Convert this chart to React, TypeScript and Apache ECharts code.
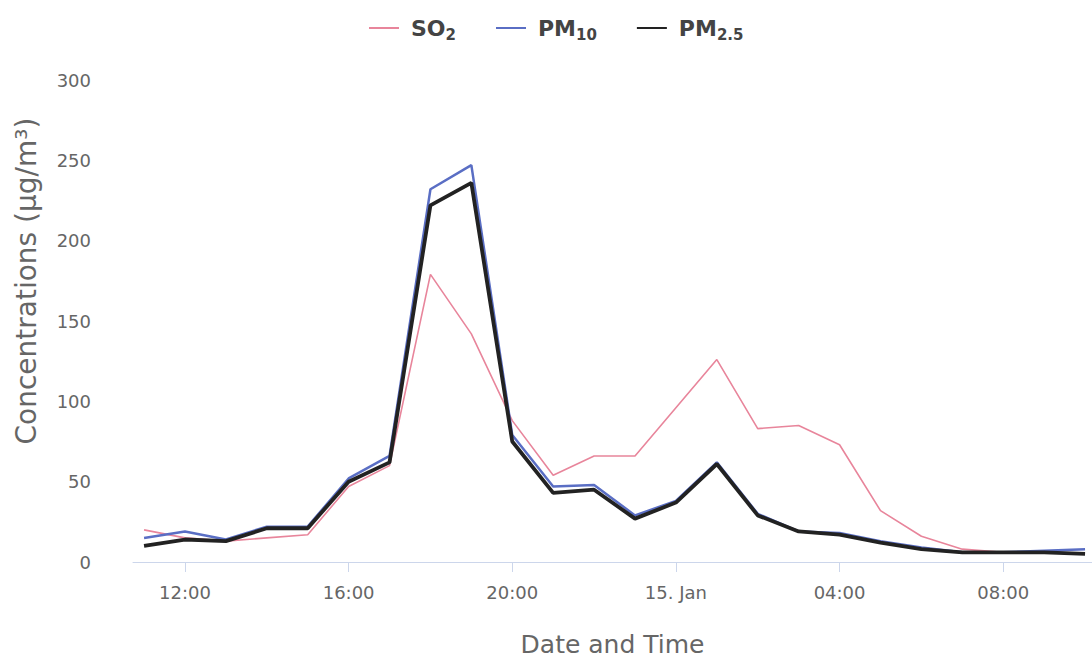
import React, { useEffect, useRef } from "react";
import * as echarts from "echarts";

// Hours since 14 Jan 00:00 (11:00 on 14 Jan to 10:00 on 15 Jan)
const hours = [11, 12, 13, 14, 15, 16, 17, 18, 19, 20, 21, 22, 23, 24, 25, 26, 27, 28, 29, 30, 31, 32, 33, 34];
const so2 = [20, 15, 13, 15, 17, 47, 60, 179, 142, 88, 54, 66, 66, 96, 126, 83, 85, 73, 32, 16, 8, 6, 6, 5];
const pm10 = [15, 19, 14, 22, 22, 52, 66, 232, 247, 79, 47, 48, 29, 38, 62, 30, 19, 18, 13, 9, 6, 6, 7, 8];
const pm25 = [10, 14, 13, 21, 21, 50, 62, 222, 236, 75, 43, 45, 27, 37, 61, 29, 19, 17, 12, 8, 6, 6, 6, 5];
const xTickHours = [12, 16, 20, 24, 28, 32];
const yTicks = [0, 50, 100, 150, 200, 250, 300];

const seriesNames = ["SO2", "PM10", "PM2.5"];
const legendRich: Record<string, string> = {
  SO2: "{b|SO}{s|2}",
  PM10: "{b|PM}{s|10}",
  "PM2.5": "{b|PM}{s|2.5}",
};

const FONT = "DejaVu Sans";

export default function App() {
  const ref = useRef<HTMLDivElement>(null);
  useEffect(() => {
    if (!ref.current) return;
    const chart = echarts.init(ref.current, null, { renderer: "svg" });
    const pair = (arr: number[]) => hours.map((h, i) => [h, arr[i]]);
    chart.setOption({
      animation: false,
      backgroundColor: "#ffffff",
      textStyle: { fontFamily: FONT },
      legend: {
        left: 364,
        top: 12,
        itemGap: 40,
        itemWidth: 30,
        itemHeight: 2,
        icon: "rect",
        data: seriesNames,
        formatter: (n: string) => legendRich[n] || n,
        textStyle: {
          color: "#333",
          fontFamily: FONT,
          rich: {
            b: { fontSize: 22, fontWeight: "bold", color: "#444", fontFamily: FONT, lineHeight: 28, padding: [0, 0, 0, 7] },
            s: { fontSize: 15, fontWeight: "bold", color: "#444", fontFamily: FONT, lineHeight: 28, verticalAlign: "bottom", padding: [10, 0, 0, 0] },
          },
        },
      },
      grid: { left: 133, right: 0, top: 80, bottom: 90, containLabel: false },
      xAxis: {
        type: "value",
        min: 10.73,
        max: 34.17,
        name: "Date and Time",
        nameLocation: "middle",
        nameGap: 70,
        nameTextStyle: { fontSize: 25, color: "#666", fontFamily: FONT },
        axisLine: { show: true, lineStyle: { color: "#ccd6eb", width: 1 } },
        axisTick: { show: true, length: 10, customValues: xTickHours, lineStyle: { color: "#ccd6eb" } },
        splitLine: { show: false },
        axisLabel: {
          customValues: xTickHours,
          margin: 21,
          fontSize: 18,
          color: "#666",
          fontFamily: FONT,
          formatter: (v: number) => {
            const h = Math.round(v) % 24;
            if (h === 0) return "15. Jan";
            return (h < 10 ? "0" : "") + h + ":00";
          },
        },
      },
      yAxis: {
        type: "value",
        min: 0,
        max: 300,
        interval: 50,
        axisLine: { show: false },
        axisTick: { show: false },
        splitLine: { show: false },
        axisLabel: {
          customValues: yTicks,
          margin: 42,
          fontSize: 18,
          color: "#666",
          fontFamily: FONT,
          padding: [0, 0, 14, 0],
        },
      },
      graphic: [
        {
          type: "text",
          x: 26,
          y: 281,
          rotation: Math.PI / 2,
          style: {
            text: "Concentrations (μg/m³)",
            fontSize: 28,
            fill: "#666",
            fontFamily: FONT,
            align: "center",
            verticalAlign: "middle",
          },
        },
      ],
      series: [
        {
          name: "SO2",
          type: "line",
          data: pair(so2),
          showSymbol: false,
          symbol: "none",
          lineStyle: { color: "#e8859b", width: 1.6 },
          itemStyle: { color: "#e8859b" },
          z: 1,
        },
        {
          name: "PM10",
          type: "line",
          data: pair(pm10),
          showSymbol: false,
          symbol: "none",
          lineStyle: { color: "#5a6ec4", width: 2.5 },
          itemStyle: { color: "#5a6ec4" },
          z: 2,
        },
        {
          name: "PM2.5",
          type: "line",
          data: pair(pm25),
          showSymbol: false,
          symbol: "none",
          lineStyle: { color: "#222222", width: 3.8 },
          itemStyle: { color: "#222222" },
          z: 3,
        },
      ],
    });
    return () => chart.dispose();
  }, []);
  return (
    <div
      ref={ref}
      style={{ position: "fixed", left: 0, top: 0, width: 1092, height: 662 }}
    />
  );
}
